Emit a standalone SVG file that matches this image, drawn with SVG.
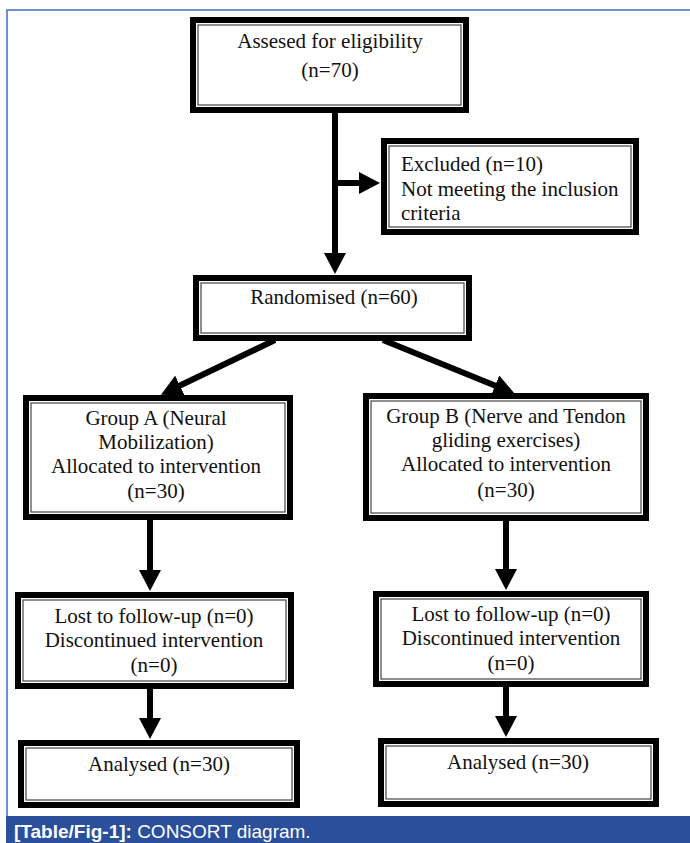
<svg xmlns="http://www.w3.org/2000/svg" width="690" height="843" viewBox="0 0 690 843">
<defs>
<style>
.outer{fill:#fff;stroke:#000;stroke-width:6}
.inner{fill:none;stroke:#444;stroke-width:1.2}
.t{font-family:"Liberation Serif","Times New Roman",serif;font-size:21px;fill:#111}
.c{text-anchor:middle}
.conn line{stroke:#000;stroke-width:6;marker-end:url(#ah)}
.frame{fill:none;stroke:#3d6cc4;stroke-width:1.5}
.cap{font-family:"Liberation Sans",Arial,sans-serif;font-size:19px;fill:#fff}
</style>
<marker id="ah" markerUnits="userSpaceOnUse" markerWidth="22" markerHeight="22" refX="1" refY="11" orient="auto" viewBox="0 0 22 22">
<path d="M0,0 L21,11 L0,22 Z" fill="#000"/>
</marker>
</defs>
<rect width="690" height="843" fill="#fff"/>
<path class="frame" d="M7,816 L7,10 L690,10"/>
<rect x="6" y="816" width="684" height="27" fill="#2a4f9b"/>
<text class="cap" x="14" y="838"><tspan font-weight="bold">[Table/Fig-1]:</tspan> CONSORT diagram.</text>

<g id="conn" class="conn">
<line x1="335" y1="113" x2="335" y2="254"/>
<line x1="335" y1="183" x2="360" y2="183"/>
<line x1="275" y1="340" x2="179" y2="386"/>
<line x1="383" y1="340" x2="496" y2="386"/>
<line x1="150" y1="520" x2="150" y2="571"/>
<line x1="506" y1="521" x2="506" y2="570"/>
<line x1="150" y1="689" x2="150" y2="719"/>
<line x1="506" y1="687" x2="506" y2="717"/>
</g>

<g id="assessed">
<rect class="outer" x="193" y="20" width="273" height="90"/>
<rect class="inner" x="198" y="25" width="263" height="80"/>
<text class="t c" x="330" y="48">Assesed for eligibility</text>
<text class="t c" x="330" y="77">(n=70)</text>
</g>

<g id="excluded">
<rect class="outer" x="384" y="141" width="252" height="91"/>
<rect class="inner" x="389" y="146" width="242" height="81"/>
<text class="t" x="401" y="171">Excluded (n=10)</text>
<text class="t" x="401" y="196">Not meeting the inclusion</text>
<text class="t" x="401" y="220">criteria</text>
</g>

<g id="randomised">
<rect class="outer" x="196" y="278" width="273" height="60"/>
<rect class="inner" x="201" y="283" width="263" height="50"/>
<text class="t c" x="334" y="304">Randomised (n=60)</text>
</g>

<g id="groupA">
<rect class="outer" x="26" y="398" width="264" height="119"/>
<rect class="inner" x="31" y="403" width="254" height="109"/>
<text class="t c" x="156" y="425">Group A (Neural</text>
<text class="t c" x="156" y="449">Mobilization)</text>
<text class="t c" x="156" y="473">Allocated to intervention</text>
<text class="t c" x="156" y="498">(n=30)</text>
</g>

<g id="groupB">
<rect class="outer" x="366" y="396" width="280" height="122"/>
<rect class="inner" x="371" y="401" width="270" height="112"/>
<text class="t c" x="506" y="423">Group B (Nerve and Tendon</text>
<text class="t c" x="506" y="447">gliding exercises)</text>
<text class="t c" x="506" y="471">Allocated to intervention</text>
<text class="t c" x="506" y="497">(n=30)</text>
</g>

<g id="lostA">
<rect class="outer" x="18" y="595" width="273" height="91"/>
<rect class="inner" x="23" y="600" width="263" height="81"/>
<text class="t c" x="154" y="623">Lost to follow-up (n=0)</text>
<text class="t c" x="154" y="647">Discontinued intervention</text>
<text class="t c" x="154" y="672">(n=0)</text>
</g>

<g id="lostB">
<rect class="outer" x="376" y="594" width="270" height="90"/>
<rect class="inner" x="381" y="599" width="260" height="80"/>
<text class="t c" x="511" y="621">Lost to follow-up (n=0)</text>
<text class="t c" x="511" y="645">Discontinued intervention</text>
<text class="t c" x="511" y="670">(n=0)</text>
</g>

<g id="analysedA">
<rect class="outer" x="21" y="743" width="276" height="62"/>
<rect class="inner" x="26" y="748" width="266" height="52"/>
<text class="t c" x="159" y="771">Analysed (n=30)</text>
</g>

<g id="analysedB">
<rect class="outer" x="381" y="741" width="275" height="63"/>
<rect class="inner" x="386" y="746" width="265" height="53"/>
<text class="t c" x="518" y="769">Analysed (n=30)</text>
</g>
</svg>
